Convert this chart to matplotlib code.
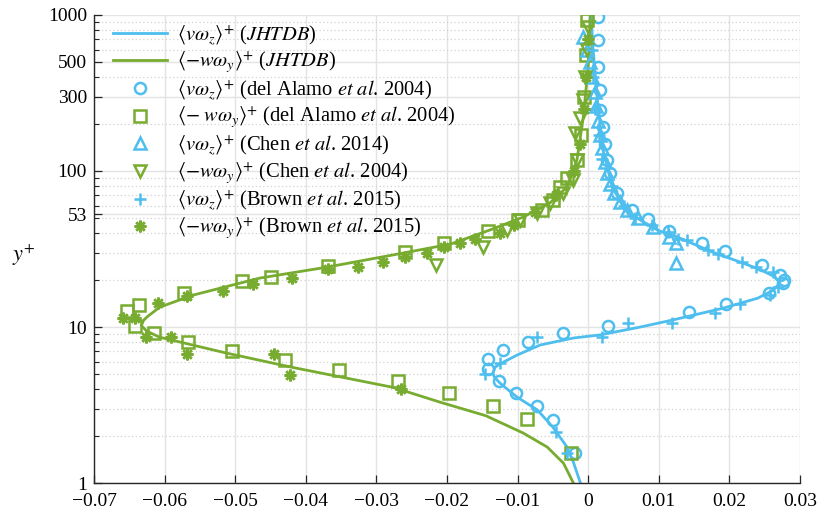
import numpy as np
import matplotlib.pyplot as plt
from matplotlib.ticker import FixedLocator, FuncFormatter

plt.rcParams['font.family'] = ['Liberation Serif', 'DejaVu Serif']
plt.rcParams['mathtext.fontset'] = 'stix'

blue = '#4DBEEE'
green = '#77AC30'

# JHTDB curves
jh_vwz_y = [1.0, 1.36, 1.70, 2.28, 2.94, 3.56, 4.37, 4.78, 5.07, 5.53, 5.96, 6.6, 7.67, 8.5, 8.9,
            10.0, 11.1, 13.2, 15.3, 17.2, 18.6, 19.6, 21.0, 23.3, 26.1, 30.1, 37.1, 41.8, 50, 58.5,
            79, 136, 285, 596, 1000]
jh_vwz_x = [-0.0011, -0.0021, -0.0030, -0.0050, -0.0072, -0.0101, -0.0125, -0.0133, -0.0135, -0.0132,
            -0.0120, -0.0101, -0.0068, -0.0021, 0.0017, 0.0074, 0.0120, 0.0191, 0.0240, 0.0262,
            0.0269, 0.0270, 0.0264, 0.0244, 0.0215, 0.0177, 0.0130, 0.0098, 0.0069, 0.0050,
            0.0034, 0.0021, 0.0013, 0.0007, 0.0004]

jh_wwy_y = [1.0, 1.34, 1.70, 2.09, 2.7, 3.3, 4.1, 5.5, 6.8, 8.6, 9.4, 10.2, 11.0, 11.6, 13.4, 16.0,
            20.6, 24.2, 29.0, 34.0, 41.9, 50.7, 62.5, 79, 117, 220, 465, 1000]
jh_wwy_x = [-0.0021, -0.0035, -0.0058, -0.0092, -0.0145, -0.0210, -0.0276, -0.0418, -0.0512,
            -0.0607, -0.0625, -0.0633, -0.0630, -0.0625, -0.0607, -0.0560, -0.0465, -0.0370,
            -0.0276, -0.0195, -0.0139, -0.0092, -0.0054, -0.0030, -0.0016, -0.0007, 0.0, 0.0003]

# del Alamo et al. 2004
da_vwz_x = [-0.0018, -0.0050, -0.0072, -0.0102, -0.0127, -0.0142, -0.0142, -0.0120, -0.0085, -0.0035,
            0.0028, 0.0143, 0.0195, 0.0256, 0.0276, 0.0278, 0.0272, 0.0246, 0.0194, 0.0161, 0.0115,
            0.0084, 0.0062, 0.0041, 0.0031, 0.0027, 0.0024, 0.0021, 0.0017, 0.0016, 0.0014, 0.0014,
            0.0014]
da_vwz_y = [1.56, 2.53, 3.1, 3.77, 4.5, 5.37, 6.2, 7.1, 8.0, 9.15, 10.1, 12.5, 14.0, 16.5, 19.1, 20.0,
            21.5, 25.0, 30.6, 34.5, 41.2, 49, 56, 72, 97, 117, 150, 191, 245, 330, 465, 690, 970]
da_wwy_x = [-0.0025, -0.0086, -0.0135, -0.0197, -0.0270, -0.0353, -0.0429, -0.0505, -0.0567, -0.0615,
            -0.0642, -0.0653, -0.0636, -0.0573, -0.0490, -0.0449, -0.0368, -0.0259, -0.0204, -0.0142,
            -0.0099, -0.0065, -0.0050, -0.0040, -0.0030, -0.0016, -0.0010, -0.0006, -0.0003, -0.0001]
da_wwy_y = [1.56, 2.57, 3.1, 3.77, 4.5, 5.3, 6.15, 7.0, 8.0, 9.15, 10.1, 12.7, 13.8, 16.5, 19.7, 20.9,
            24.6, 30.1, 34.5, 41.2, 48.5, 56, 65, 79, 90, 117, 170, 300, 550, 930]

# Chen et al.
ch_vwz_x = [0.0125, 0.0125, 0.0115, 0.0092, 0.0070, 0.0055, 0.0045, 0.0037, 0.0031, 0.0027, 0.0024,
            0.0020, 0.0017, 0.0014, 0.0011, 0.0009, 0.0006, 0.0003, -0.0002, -0.0007]
ch_vwz_y = [25.7, 34.5, 38, 44, 50, 56, 63, 72, 83, 97, 115, 140, 170, 210, 260, 320, 400, 500, 600, 720]
ch_wwy_x = [-0.0215, -0.0149, -0.0115, -0.0096, -0.0072, -0.0054, -0.0035, -0.0021, -0.0016, -0.0018,
            -0.0011, -0.0007, -0.0004, -0.0001, 0.0]
ch_wwy_y = [25, 32.5, 41.8, 48.5, 54, 62.5, 72, 87.5, 117, 175, 220, 285, 400, 600, 840]

# Brown et al. 2015
br_vwz_x = [-0.0030, -0.0045, -0.0146, -0.0125, -0.0072, 0.0020, 0.0057, 0.0119, 0.0180, 0.0215,
            0.0258, 0.0269, 0.0262, 0.0237, 0.0218, 0.0184, 0.0170, 0.0140, 0.0127, 0.0113, 0.0090,
            0.0066, 0.0050, 0.0034, 0.0020, 0.0015, 0.0010, 0.0007, 0.0006]
br_vwz_y = [1.56, 2.12, 5.0, 5.9, 8.6, 8.6, 10.6, 10.6, 12.3, 14.0, 16.0, 18.0, 22.5, 24.2, 26.1,
            29.4, 31.0, 36.0, 36.6, 40.5, 45, 50, 60, 80, 120, 170, 250, 400, 600]
br_wwy_x = [-0.0265, -0.0423, -0.0568, -0.0445, -0.0626, -0.0591, -0.0659, -0.0642, -0.0609, -0.0568,
            -0.0517, -0.0475, -0.0420, -0.0368, -0.0326, -0.0290, -0.0259, -0.0229, -0.0204, -0.0181,
            -0.0161, -0.0125, -0.0105, -0.0075, -0.0045, -0.0020, -0.0012, -0.0006, -0.0003, 0.0]
br_wwy_y = [4.0, 4.9, 6.7, 6.7, 8.6, 8.6, 11.4, 11.4, 14.2, 15.8, 17.0, 18.9, 20.6, 23.5, 24.2, 26.1,
            28.1, 29.8, 32.5, 34.5, 36.6, 40, 45, 55, 70, 100, 150, 250, 400, 700]

fig = plt.figure(figsize=(8.19, 5.15), dpi=100)
ax = fig.add_axes([0.1148, 0.0621, 0.862, 0.9088])

ax.plot(jh_vwz_x, jh_vwz_y, color=blue, lw=2.0, label=r'$\langle v\omega_z\rangle^{+}$ ($JHTDB$)')
ax.plot(jh_wwy_x, jh_wwy_y, color=green, lw=2.0, label=r'$\langle {-}w\omega_y\rangle^{+}$ ($JHTDB$)')
mk = dict(linestyle='none', mfc='none', ms=8, mew=1.8)
ax.plot(da_vwz_x, da_vwz_y, marker='o', color=blue, label=r'$\langle v\omega_z\rangle^{+}$ (del Alamo $et\ al$. 2004)', **mk)
ax.plot(da_wwy_x, da_wwy_y, marker='s', color=green, label=r'$\langle {-}\;w\omega_y\rangle^{+}$ (del Alamo $et\ al$. 2004)', **mk)
ax.plot(ch_vwz_x, ch_vwz_y, marker='^', color=blue, label=r'$\langle v\omega_z\rangle^{+}$ (Chen $et\ al$. 2014)', **mk)
ax.plot(ch_wwy_x, ch_wwy_y, marker='v', color=green, label=r'$\langle {-}w\omega_y\rangle^{+}$ (Chen $et\ al$. 2004)', **mk)
ax.plot(br_vwz_x, br_vwz_y, marker='+', color=blue, linestyle='none', ms=8.5, mew=1.8,
        label=r'$\langle v\omega_z\rangle^{+}$ (Brown $et\ al$. 2015)')
ax.plot(br_wwy_x, br_wwy_y, marker=(8, 2, 0), color=green, linestyle='none', ms=8.5, mew=1.8,
        label=r'$\langle {-}w\omega_y\rangle^{+}$ (Brown $et\ al$. 2015)')

ax.set_yscale('log')
ax.set_xlim(-0.07, 0.03)
ax.set_ylim(1, 1000)

xt = [-0.07, -0.06, -0.05, -0.04, -0.03, -0.02, -0.01, 0, 0.01, 0.02, 0.03]
ax.set_xticks(xt)
ax.xaxis.set_major_formatter(FuncFormatter(lambda v, p: '0' if abs(v) < 1e-9 else ('%g' % v).replace('-', '\u2212')))
yt = [1, 10, 53, 100, 300, 500, 1000]
ax.yaxis.set_major_locator(FixedLocator(yt))
ax.yaxis.set_major_formatter(FuncFormatter(lambda v, p: '%d' % round(v)))
minor = [m * 10 ** d for d in range(3) for m in range(2, 10) if m * 10 ** d not in (300, 500)]
ax.yaxis.set_minor_locator(FixedLocator(minor))
ax.yaxis.set_minor_formatter(FuncFormatter(lambda v, p: ''))

ax.grid(True, which='major', color='#e3e3e3', lw=1.0, ls='-')
ax.grid(True, which='minor', axis='y', color='#d2d2d2', lw=0.9, ls=(0, (1, 2)))
ax.set_axisbelow(True)

for s in ['top', 'right']:
    ax.spines[s].set_visible(False)
for s in ['left', 'bottom']:
    ax.spines[s].set_color('#262626')
    ax.spines[s].set_linewidth(1.0)
ax.tick_params(axis='both', which='major', direction='in', length=6, width=0.9, color='#262626',
               labelsize=14)
ax.tick_params(axis='x', which='major', pad=7)
ax.tick_params(axis='y', which='major', pad=5)
ax.tick_params(axis='y', which='minor', direction='in', length=3.5, width=0.8, color='#262626')

ax.set_ylabel(r'$y^{+}$', rotation=0, fontsize=16)
ax.yaxis.set_label_coords(-0.10, 0.46)

leg = ax.legend(loc='upper left', bbox_to_anchor=(0.027, 0.983), frameon=False, fontsize=14.8,
                handlelength=2.6, handletextpad=0.5, labelspacing=0.15, borderaxespad=0.0,
                borderpad=0.0)

fig.savefig('out.png', dpi=100)
